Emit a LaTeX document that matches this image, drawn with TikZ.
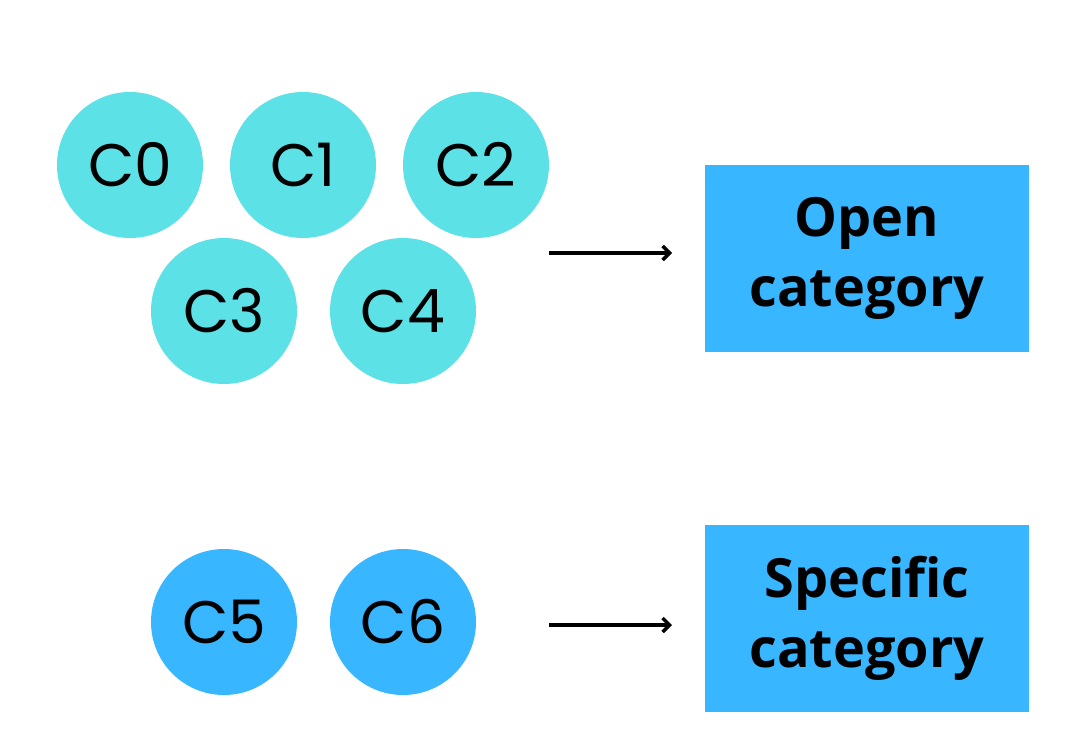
\documentclass[tikz,border=0pt]{standalone}
\usepackage{fontspec}
\newfontfamily\circfont{Poppins}
\newfontfamily\boxfont{Open Sans}[BoldFont=* Bold]
\usetikzlibrary{arrows.meta}
\definecolor{cyanc}{HTML}{5CE1E6}
\definecolor{bluec}{HTML}{38B6FF}
\tikzset{
  circ/.style={circle, minimum size=146pt, inner sep=0pt, text=black, font=\circfont\fontsize{60}{62}\selectfont},
  topc/.style={circ, fill=cyanc},
  botc/.style={circ, fill=bluec},
  catbox/.style={rectangle, fill=bluec, minimum width=324pt, minimum height=187pt, inner sep=0pt, align=center, font=\boxfont\bfseries\fontsize{54}{70}\selectfont},
  arr/.style={line width=3.5pt, -{Straight Barb[length=7pt,width=14pt,line width=3.5pt]}}
}
\begin{document}
\begin{tikzpicture}[x=1pt,y=-1pt]
\useasboundingbox (0,0) rectangle (1079,734);
\node[topc] (c0) at (130,165) {C0};
\node[topc] (c1) at (303,165) {C1};
\node[topc] (c2) at (476,165) {C2};
\node[topc] (c3) at (224,311) {C3};
\node[topc] (c4) at (403,311) {C4};
\node[botc] (c5) at (224,622) {C5};
\node[botc] (c6) at (403,622) {C6};
\node[catbox] (open) at (867,258.5) {Open\\category};
\node[catbox] (spec) at (867,618.5) {Specific\\category};
\coordinate (a1s) at (549,253);
\coordinate (a1e) at (672,253);
\coordinate (a2s) at (549,625);
\coordinate (a2e) at (672,625);
\draw[arr] (a1s) -- (a1e);
\draw[arr] (a2s) -- (a2e);
\end{tikzpicture}
\end{document}
